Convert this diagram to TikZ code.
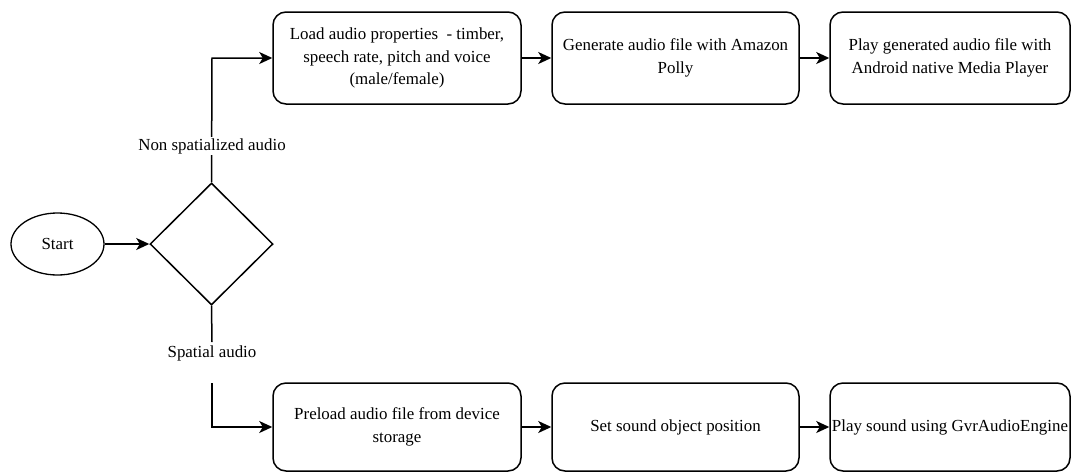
\documentclass[tikz,border=0pt]{standalone}
\usepackage{fontspec}
\setmainfont{Liberation Serif}
\usetikzlibrary{shapes.geometric,arrows.meta}
\begin{document}
\begin{tikzpicture}[x=1pt,y=-1pt,
  every node/.style={font=\fontsize{16.9}{22.5}\selectfont},
  proc/.style={draw, line width=1.5pt, rounded corners=13pt, inner sep=0pt, align=center, minimum height=92pt},
  lbl/.style={fill=white, inner xsep=1pt, inner ysep=1pt},
  conn/.style={line width=1.5pt, -{Stealth[length=13pt,width=12pt,inset=3.5pt]}},
  plain/.style={line width=1.5pt}]
\useasboundingbox (0,0) rectangle (1071,472);
\node[draw, ellipse, line width=1.3pt, minimum width=93pt, minimum height=62pt, inner sep=0pt] (start) at (57.5,244) {Start};
\node[draw, diamond, line width=1.5pt, minimum width=123pt, minimum height=122pt, inner sep=0pt] (dia) at (211.5,244) {};
\node[proc, minimum width=248pt] (b1) at (397,58) {Load audio properties\ \ - timber,\\speech rate, pitch and voice\\(male/female)};
\node[proc, minimum width=247pt] (b2) at (675.5,58) {Generate audio file with Amazon\\Polly};
\node[proc, minimum width=240pt] (b3) at (950,58) {Play generated audio file with\\Android native Media Player};
\node[proc, minimum width=248pt, minimum height=88pt] (b4) at (397,427) {Preload audio file from device\\storage};
\node[proc, minimum width=247pt, minimum height=88pt] (b5) at (675.5,427) {Set sound object position};
\node[proc, minimum width=240pt, minimum height=88pt] (b6) at (950,427) {\hspace*{-20pt}Play sound using GvrAudioEngine\hspace*{-20pt}};
\coordinate (topturn) at (212,58);
\coordinate (spgap) at (212,383);
\coordinate (botturn) at (212,427);
\draw[conn] (start) -- (dia.west);
\draw[conn] (dia.north) -- (topturn) -- (b1.west);
\node[lbl] (nsa) at (212,146) {Non spatialized audio};
\node[lbl, inner ysep=0pt] (sa) at (212,353) {Spatial audio};
\draw[plain] (dia.south) -- (212,342);
\draw[conn] (spgap) -- (botturn) -- (b4.west);
\draw[conn] (b1) -- (b2);
\draw[conn] (b2) -- (b3);
\draw[conn] (b4) -- (b5);
\draw[conn] (b5) -- (b6);
\end{tikzpicture}
\end{document}
